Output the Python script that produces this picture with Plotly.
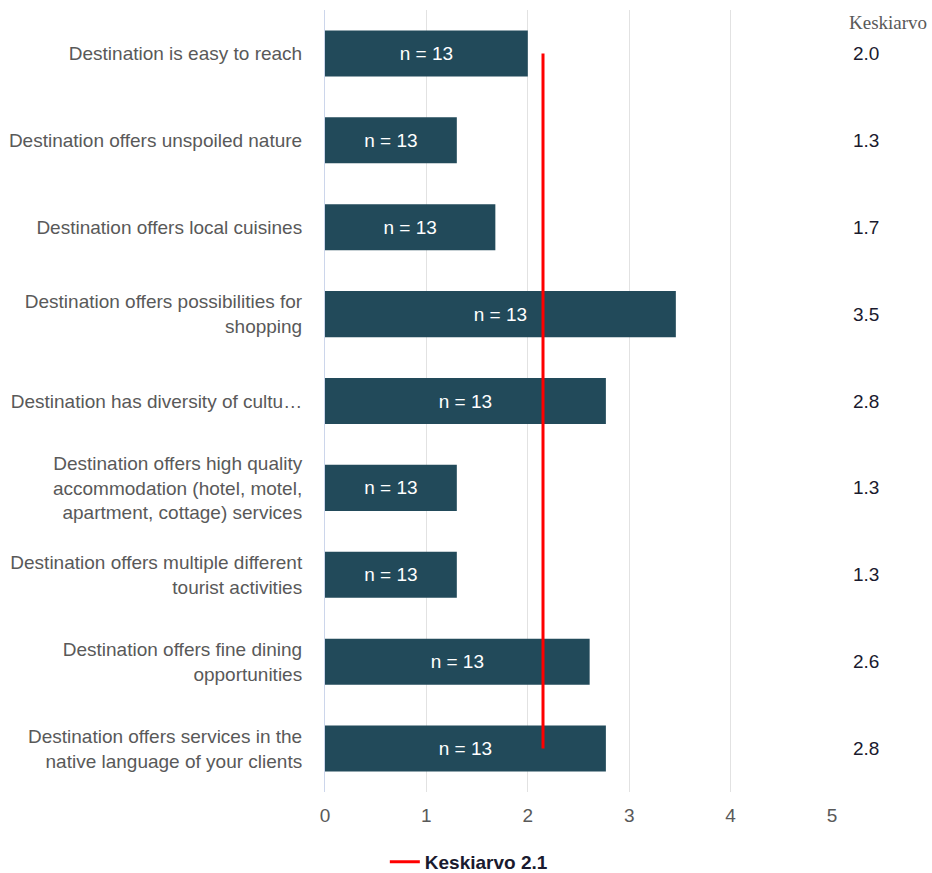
import plotly.graph_objects as go

categories = [
    "Destination is easy to reach",
    "Destination offers unspoiled nature",
    "Destination offers local cuisines",
    "Destination offers possibilities for<br>shopping",
    "Destination has diversity of cultu…",
    "Destination offers high quality<br>accommodation (hotel, motel,<br>apartment, cottage) services",
    "Destination offers multiple different<br>tourist activities",
    "Destination offers fine dining<br>opportunities",
    "Destination offers services in the<br>native language of your clients",
]
values = [2.0, 1.3, 1.68, 3.46, 2.77, 1.3, 1.3, 2.61, 2.77]
counts = [13, 13, 13, 13, 13, 13, 13, 13, 13]
overall_mean = 2.15
mean_label = "Keskiarvo 2.1"
x_ticks = [0, 1, 2, 3, 4, 5]

BAR = "#224a5a"
GRAY = "#595959"
FS = 19

fig = go.Figure()
fig.add_trace(go.Bar(
    y=categories, x=values, orientation="h",
    marker=dict(color=BAR, line=dict(width=0)),
    width=0.53,
    text=[f"n = {c}" for c in counts],
    textposition="inside", insidetextanchor="middle",
    textfont=dict(color="white", size=FS, family="Liberation Sans"),
    constraintext="none",
    showlegend=False, hoverinfo="skip",
))
fig.add_trace(go.Scatter(
    x=[overall_mean, overall_mean], y=[categories[0], categories[-1]],
    mode="lines", line=dict(color="#ff0000", width=3),
    name="<b>" + mean_label + "</b>", showlegend=True, hoverinfo="skip",
))

annotations = [dict(
    xref="paper", yref="paper", x=1.03, y=1.0, xanchor="left", yanchor="top",
    text="Keskiarvo", showarrow=False,
    font=dict(family="Liberation Serif", size=FS, color=GRAY),
)]
for cat, v in zip(categories, values):
    annotations.append(dict(
        xref="paper", yref="y", x=1.067, y=cat, xanchor="center", yanchor="middle",
        text=f"{v:.1f}", showarrow=False,
        font=dict(family="Liberation Sans", size=FS, color="#1a1a2e"),
    ))

fig.update_layout(
    width=932, height=873,
    margin=dict(l=325, r=100, t=10, b=81, autoexpand=False),
    paper_bgcolor="white", plot_bgcolor="white",
    font=dict(family="Liberation Sans", size=FS, color=GRAY),
    annotations=annotations,
    legend=dict(orientation="h", x=0.118, xanchor="left",
                yref="container", y=0.0126, yanchor="middle",
                font=dict(size=FS, color="#1a1a2e", family="Liberation Sans"),
                itemwidth=30),
    xaxis=dict(range=[0, 5.0], tickvals=x_ticks, showgrid=True, gridcolor="#e2e2e2",
               gridwidth=1, zeroline=False, showline=False, ticks="",
               tickfont=dict(size=FS, color=GRAY), ticklabelstandoff=10,
               automargin=False),
    yaxis=dict(autorange="reversed", showgrid=False, zeroline=False,
               showline=True, linecolor="#ccd6eb", linewidth=1, ticks="",
               tickfont=dict(size=FS, color=GRAY), ticklabelstandoff=18,
               automargin=False),
)

fig.write_html("out.html")
